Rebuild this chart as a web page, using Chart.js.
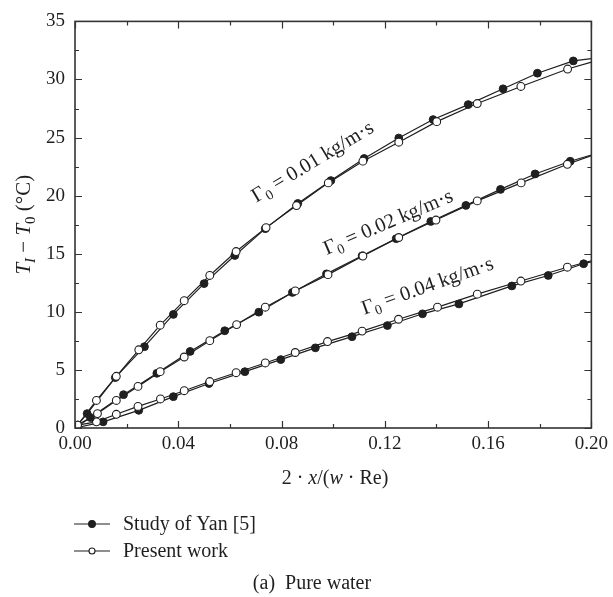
<!DOCTYPE html>
<html>
<head>
<meta charset="utf-8">
<title>Pure water</title>
<script src="https://cdn.jsdelivr.net/npm/chart.js@4.4.1/dist/chart.umd.min.js"></script>
<style>
  html, body { margin: 0; padding: 0; background: #fff; }
  canvas { display: block; }
</style>
</head>
<body>
<canvas id="chart" width="613" height="597"></canvas>
<script>
// axis ticks
const xTicks = [0, 0.04, 0.08, 0.12, 0.16, 0.20];
const yTicks = [0, 5, 10, 15, 20, 25, 30, 35];

// inlet flow rates (kg/m·s)
const gammaValues = ['0.01', '0.02', '0.04'];

// Study of Yan [5], Γ0 = 0.01
const yan01X = [0, 0.0047, 0.0156, 0.0269, 0.0381, 0.0500, 0.0619, 0.0737, 0.0863, 0.0991, 0.1120, 0.1254, 0.1387, 0.1523, 0.1658, 0.1791, 0.1930, 0.2];
const yan01Y = [0, 1.24, 4.34, 7.00, 9.78, 12.43, 14.85, 17.16, 19.33, 21.30, 23.20, 24.96, 26.55, 27.84, 29.20, 30.54, 31.60, 31.8];
// Present work, Γ0 = 0.01
const work01X = [0.001, 0.0083, 0.0160, 0.0247, 0.0330, 0.0423, 0.0522, 0.0624, 0.0740, 0.0858, 0.0981, 0.1115, 0.1254, 0.1401, 0.1558, 0.1727, 0.1908, 0.2];
const work01Y = [0.25, 2.37, 4.45, 6.73, 8.85, 10.96, 13.13, 15.19, 17.25, 19.15, 21.10, 22.97, 24.60, 26.37, 27.93, 29.40, 30.90, 31.5];

// Study of Yan [5], Γ0 = 0.02
const yan02X = [0, 0.0060, 0.0188, 0.0317, 0.0446, 0.0580, 0.0712, 0.0842, 0.0974, 0.1112, 0.1244, 0.1378, 0.1514, 0.1648, 0.1782, 0.1918, 0.2];
const yan02Y = [0, 0.90, 2.87, 4.71, 6.59, 8.37, 9.97, 11.67, 13.27, 14.82, 16.30, 17.78, 19.16, 20.54, 21.87, 22.96, 23.5];
// Present work, Γ0 = 0.02
const work02X = [0.001, 0.0087, 0.0160, 0.0244, 0.0330, 0.0423, 0.0522, 0.0626, 0.0737, 0.0853, 0.0980, 0.1115, 0.1254, 0.1398, 0.1558, 0.1728, 0.1907, 0.2];
const work02Y = [0.25, 1.24, 2.37, 3.58, 4.85, 6.11, 7.52, 8.90, 10.40, 11.80, 13.20, 14.80, 16.40, 17.90, 19.55, 21.10, 22.70, 23.45];

// Study of Yan [5], Γ0 = 0.04
const yan04X = [0, 0.0109, 0.0247, 0.0381, 0.0519, 0.0658, 0.0797, 0.0931, 0.1073, 0.1210, 0.1346, 0.1487, 0.1692, 0.1833, 0.1970, 0.2];
const yan04Y = [0, 0.53, 1.52, 2.70, 3.83, 4.85, 5.89, 6.90, 7.86, 8.82, 9.83, 10.68, 12.23, 13.13, 14.14, 14.3];
// Present work, Γ0 = 0.04
const work04X = [0.001, 0.0083, 0.0160, 0.0244, 0.0331, 0.0423, 0.0522, 0.0624, 0.0737, 0.0853, 0.0978, 0.1112, 0.1253, 0.1404, 0.1558, 0.1727, 0.1907, 0.2];
const work04Y = [0.25, 0.53, 1.18, 1.86, 2.50, 3.21, 4.00, 4.76, 5.60, 6.50, 7.44, 8.34, 9.36, 10.40, 11.52, 12.65, 13.84, 14.4];

const INK = '#1f1f1f';
const FONT = '"Liberation Serif", "Times New Roman", serif';

const zip = (xs, ys) => xs.map((x, i) => ({ x: x, y: ys[i] }));

// yan curves start at the origin with no marker; every curve runs on to x = 0.2 unmarked
const markerRadius = (hideFirst) => (ctx) => {
  const n = ctx.dataset.data.length;
  if (ctx.dataIndex === n - 1) return 0;
  if (hideFirst && ctx.dataIndex === 0) return 0;
  return 3.9;
};

const yanSet = (xs, ys) => ({
  label: 'Study of Yan [5]',
  data: zip(xs, ys),
  showLine: true,
  borderColor: INK,
  borderWidth: 1.2,
  backgroundColor: INK,
  pointBackgroundColor: INK,
  pointBorderColor: INK,
  pointBorderWidth: 1,
  pointRadius: markerRadius(true),
  tension: 0
});

const workSet = (xs, ys) => ({
  label: 'Present work',
  data: zip(xs, ys),
  showLine: true,
  borderColor: INK,
  borderWidth: 1.2,
  backgroundColor: '#fff',
  pointBackgroundColor: '#fff',
  pointBorderColor: INK,
  pointBorderWidth: 1.1,
  pointRadius: markerRadius(false),
  tension: 0
});

// text pieces: t = text, i = italic, s = subscript
function fontOf(p, size) {
  return `${p.i ? 'italic ' : ''}${p.s ? Math.round(size * 0.7) : size}px ${FONT}`;
}

function richWidth(ctx, parts, size) {
  let w = 0;
  parts.forEach(p => {
    ctx.font = fontOf(p, size);
    w += ctx.measureText(p.t).width;
  });
  return w;
}

function drawRich(ctx, parts, x, y, size, align) {
  let cx = align === 'center' ? x - richWidth(ctx, parts, size) / 2 : x;
  ctx.textAlign = 'left';
  ctx.textBaseline = 'alphabetic';
  parts.forEach(p => {
    ctx.font = fontOf(p, size);
    ctx.fillText(p.t, cx, y + (p.s ? size * 0.22 : 0));
    cx += ctx.measureText(p.t).width;
  });
}

// curve labels: anchor in data units, angle in degrees
const curveLabels = [
  { x: 0.0702, y: 19.4, angle: 31 },
  { x: 0.0975, y: 14.9, angle: 23 },
  { x: 0.1120, y: 9.75, angle: 19.5 }
];

const decorations = {
  id: 'decorations',
  afterDraw(chart) {
    const { ctx, chartArea: a, scales } = chart;
    const xs = scales.x, ys = scales.y;
    ctx.save();
    ctx.strokeStyle = '#333';
    ctx.fillStyle = INK;

    // frame
    ctx.lineWidth = 1.6;
    ctx.strokeRect(a.left, a.top, a.right - a.left, a.bottom - a.top);

    // inward ticks on all four sides
    ctx.lineWidth = 1.2;
    ctx.beginPath();
    for (let v = 0; v <= 0.2001; v += 0.02) {
      const px = Math.round(xs.getPixelForValue(v)) + 0.5;
      const len = Math.abs(v / 0.04 - Math.round(v / 0.04)) < 1e-6 ? 7 : 4;
      ctx.moveTo(px, a.bottom); ctx.lineTo(px, a.bottom - len);
      ctx.moveTo(px, a.top); ctx.lineTo(px, a.top + len);
    }
    for (let v = 0; v <= 35.001; v += 2.5) {
      const py = Math.round(ys.getPixelForValue(v)) + 0.5;
      const len = Math.abs(v / 5 - Math.round(v / 5)) < 1e-6 ? 7 : 4;
      ctx.moveTo(a.left, py); ctx.lineTo(a.left + len, py);
      ctx.moveTo(a.right, py); ctx.lineTo(a.right - len, py);
    }
    ctx.stroke();

    // curve labels
    curveLabels.forEach((c, k) => {
      ctx.save();
      ctx.translate(xs.getPixelForValue(c.x), ys.getPixelForValue(c.y));
      ctx.rotate(-c.angle * Math.PI / 180);
      drawRich(ctx, [
        { t: 'Γ' }, { t: '0', s: true },
        { t: ' = ' + gammaValues[k] + ' kg/m·s' }
      ], 0, 0, 20.5, 'left');
      ctx.restore();
    });

    // y axis title
    ctx.save();
    ctx.translate(23, (a.top + a.bottom) / 2);
    ctx.rotate(-Math.PI / 2);
    drawRich(ctx, [
      { t: 'T', i: true }, { t: 'I', i: true, s: true },
      { t: ' − ' },
      { t: 'T', i: true }, { t: '0', s: true },
      { t: ' (°C)' }
    ], 0, 7, 21, 'center');
    ctx.restore();

    // x axis title
    drawRich(ctx, [
      { t: '2 · ' }, { t: 'x', i: true }, { t: '/(' },
      { t: 'w', i: true }, { t: ' · Re)' }
    ], 335, 484, 20, 'center');

    // legend
    const rows = [
      { y: 524, fill: INK, r: 3.4, text: 'Study of Yan [5]' },
      { y: 551, fill: '#fff', r: 3.0, text: 'Present work' }
    ];
    rows.forEach(row => {
      ctx.lineWidth = 1.1;
      ctx.strokeStyle = INK;
      ctx.beginPath();
      ctx.moveTo(74, row.y); ctx.lineTo(110, row.y);
      ctx.stroke();
      ctx.beginPath();
      ctx.arc(92, row.y, row.r, 0, Math.PI * 2);
      ctx.fillStyle = row.fill;
      ctx.fill();
      ctx.stroke();
      ctx.fillStyle = INK;
      ctx.font = `20px ${FONT}`;
      ctx.textAlign = 'left';
      ctx.textBaseline = 'middle';
      ctx.fillText(row.text, 123, row.y + 1);
    });

    // caption
    ctx.font = `20px ${FONT}`;
    ctx.textAlign = 'center';
    ctx.textBaseline = 'middle';
    ctx.fillText('(a)  Pure water', 312, 584);

    ctx.restore();
  }
};

new Chart(document.getElementById('chart'), {
  type: 'scatter',
  data: {
    datasets: [
      workSet(work01X, work01Y), yanSet(yan01X, yan01Y),
      workSet(work02X, work02Y), yanSet(yan02X, yan02Y),
      workSet(work04X, work04Y), yanSet(yan04X, yan04Y)
    ]
  },
  options: {
    responsive: false,
    animation: false,
    layout: { padding: { left: 0, right: 18, top: 14, bottom: 129 } },
    plugins: {
      legend: { display: false },
      tooltip: { enabled: false }
    },
    scales: {
      x: {
        type: 'linear',
        min: 0,
        max: 0.2,
        afterBuildTicks: s => { s.ticks = xTicks.map(v => ({ value: v })); },
        afterFit: s => { s.height = 40; },
        grid: { display: false, drawTicks: false },
        border: { display: false },
        ticks: {
          padding: 5,
          color: INK,
          font: { family: FONT, size: 19 },
          maxRotation: 0,
          callback: v => v.toFixed(2)
        }
      },
      y: {
        type: 'linear',
        min: 0,
        max: 35,
        afterBuildTicks: s => { s.ticks = yTicks.map(v => ({ value: v })); },
        afterFit: s => { s.width = 75; },
        grid: { display: false, drawTicks: false },
        border: { display: false },
        ticks: {
          padding: 10,
          color: INK,
          font: { family: FONT, size: 19 },
          callback: v => String(v)
        }
      }
    }
  },
  plugins: [decorations]
});
</script>
</body>
</html>
